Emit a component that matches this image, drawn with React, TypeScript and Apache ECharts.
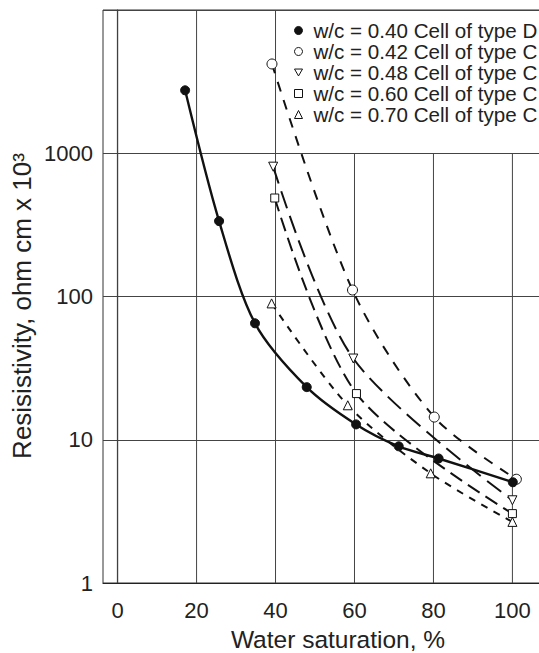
import React, { useEffect, useRef } from "react";
import * as echarts from "echarts";

const FONT = '"Liberation Sans", Arial, Helvetica, sans-serif';

const xTicks = [0, 20, 40, 60, 80, 100];
const yTicks = [1, 10, 100, 1000];
// upper end of each vertical grid line (the right ones stop at 1000 under the legend)
const gridTopX = [10000, 10000, 10000, 1000, 1000, 1000];

const seriesNames = [
  "w/c = 0.40 Cell of type D",
  "w/c = 0.42 Cell of type C",
  "w/c = 0.48 Cell of type C",
  "w/c = 0.60 Cell of type C",
  "w/c = 0.70 Cell of type C",
];

const wc040X = [17.1, 25.7, 34.8, 47.9, 60.4, 71.2, 81.3, 100.1];
const wc040Y = [2750, 336, 65, 23.3, 12.8, 9.0, 7.4, 5.05];
const wc042X = [39.1, 59.5, 80.2, 101];
const wc042Y = [4200, 111, 14.4, 5.3];
const wc048X = [39.4, 59.7, 100];
const wc048Y = [806, 36.9, 3.78];
const wc060X = [39.8, 60.5, 100];
const wc060Y = [487, 21, 3.05];
const wc070X = [39, 58.3, 79.3, 100];
const wc070Y = [89.5, 17.4, 5.83, 2.67];

const INV_TRI = "path://M0,0L20,0L10,17.3Z";

const pairs = (xs: number[], ys: number[]) => xs.map((x, i) => [x, ys[i]]);

export default function App() {
  const ref = useRef<HTMLDivElement>(null);
  useEffect(() => {
    document.body.style.margin = "0";
    const chart = echarts.init(ref.current!, null, { renderer: "svg" });

    const symbols = ["circle", "circle", INV_TRI, "rect", "triangle"];
    const fills = ["#111", "#fff", "#fff", "#fff", "#fff"];
    const sizes = [9, 10, 9, 8, 9];
    const dashes: any[] = ["solid", [10, 9], [18, 8], [14, 7], [7, 7]];
    const datas = [
      pairs(wc040X, wc040Y),
      pairs(wc042X, wc042Y),
      pairs(wc048X, wc048Y),
      pairs(wc060X, wc060Y),
      pairs(wc070X, wc070Y),
    ];

    const gridSeries = xTicks.map((x, i) => ({
      type: "line",
      data: [
        [x, yTicks[0]],
        [x, gridTopX[i]],
      ],
      symbol: "none",
      silent: true,
      z: 1,
      lineStyle: { color: "#444", width: 1 },
    }));

    const dataSeries = seriesNames.map((name, i) => ({
      name,
      type: "line",
      data: datas[i],
      symbol: symbols[i],
      symbolSize: sizes[i],
      smooth: 0.3,
      z: 3 + (i === 0 ? 1 : 0),
      lineStyle: { color: "#111", width: i === 0 ? 2.4 : 2, type: dashes[i] },
      itemStyle: { color: fills[i], borderColor: "#111", borderWidth: 1 },
    }));

    chart.setOption({
      animation: false,
      backgroundColor: "#fff",
      grid: {
        left: 103,
        top: 10,
        width: 441,
        height: 573,
        show: true,
        borderColor: "#333",
        borderWidth: 1,
        backgroundColor: "transparent",
      },
      xAxis: {
        type: "value",
        min: -3.7,
        max: 108,
        axisLine: { show: true, lineStyle: { color: "#222", width: 1.2 } },
        axisTick: { show: false },
        splitLine: { show: false },
        axisLabel: {
          customValues: xTicks,
          formatter: (v: number) => (xTicks.includes(v) ? String(v) : ""),
          fontFamily: FONT,
          fontSize: 22,
          color: "#222",
          margin: 16,
        },
      },
      yAxis: {
        type: "log",
        logBase: 10,
        min: 1,
        max: 10000,
        axisLine: { show: true, lineStyle: { color: "#222", width: 1.2 } },
        axisTick: { show: false },
        splitLine: { show: true, lineStyle: { color: "#444", width: 1 } },
        axisLabel: {
          showMaxLabel: false,
          formatter: (v: number) => {
            const r = Math.round(v);
            return yTicks.includes(r) ? String(r) : "";
          },
          fontFamily: FONT,
          fontSize: 22,
          color: "#222",
          margin: 10,
        },
      },
      legend: {
        orient: "vertical",
        left: 294,
        top: 20,
        padding: 0,
        itemWidth: 8,
        itemHeight: 8,
        itemGap: 0,
        selectedMode: false,
        textStyle: {
          fontFamily: FONT,
          fontSize: 20.6,
          color: "#222",
          lineHeight: 19.8,
          padding: [0, 0, 0, 6],
        },
        data: seriesNames.map((n, i) => ({
          name: n,
          icon: symbols[i],
          itemStyle: { color: fills[i], borderColor: "#111", borderWidth: 1 },
        })),
      },
      graphic: [
        {
          type: "text",
          x: 338,
          y: 639,
          style: {
            text: "Water saturation, %",
            fontFamily: FONT,
            fontSize: 24.5,
            fill: "#222",
            align: "center",
            verticalAlign: "middle",
          },
        },
        {
          type: "text",
          x: 22,
          y: 306,
          rotation: Math.PI / 2,
          style: {
            text: "Resisistivity, ohm cm x 10³",
            fontFamily: FONT,
            fontSize: 26,
            fill: "#222",
            align: "center",
            verticalAlign: "middle",
          },
        },
      ],
      series: [...gridSeries, ...dataSeries],
    });
    return () => chart.dispose();
  }, []);
  return (
    <div
      style={{
        position: "fixed",
        left: 0,
        top: 0,
        width: 539,
        height: 653,
        overflow: "hidden",
        background: "#fff",
      }}
    >
      <div ref={ref} style={{ width: 560, height: 653 }} />
    </div>
  );
}
